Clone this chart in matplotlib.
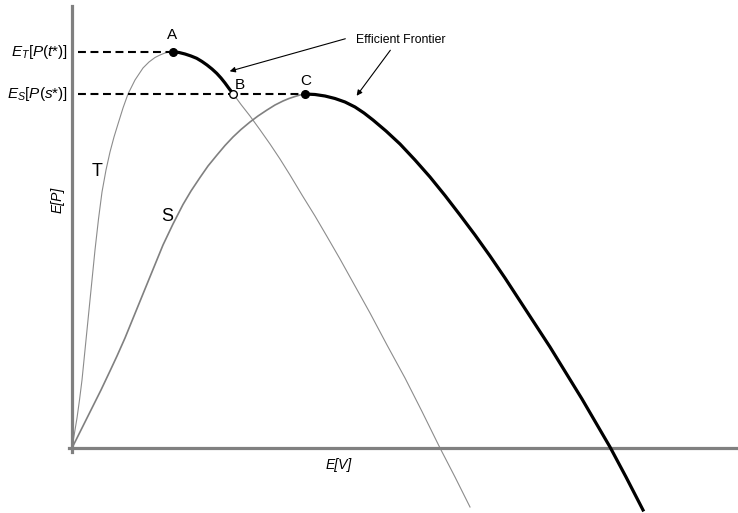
import matplotlib
matplotlib.use("Agg")
import matplotlib.pyplot as plt

plt.rcParams['font.family'] = ['Liberation Sans', 'DejaVu Sans']
plt.rcParams['mathtext.fontset'] = 'custom'
plt.rcParams['mathtext.rm'] = 'Liberation Sans'
plt.rcParams['mathtext.it'] = 'Liberation Sans:italic'

# curve T: expected value E[V] vs expected payoff E[P]
t_ev = [0, 0.025, 0.05, 0.075, 0.10, 0.13, 0.16, 0.195, 0.23, 0.265, 0.30, 0.34,
        0.38, 0.42, 0.46, 0.51, 0.56, 0.63, 0.71, 0.77, 0.83, 0.88, 0.93, 0.97,
        1.005, 1.07, 1.13, 1.19, 1.247, 1.30, 1.35, 1.40, 1.447, 1.49, 1.53, 1.57,
        1.613, 1.69, 1.78, 1.88, 1.98, 2.08, 2.18, 2.30, 2.43, 2.55, 2.68, 2.83,
        2.98, 3.15, 3.33, 3.50, 3.68, 3.83, 3.98]
t_ep = [0, 0.15, 0.30, 0.48, 0.68, 0.98, 1.28, 1.63, 1.98, 2.29, 2.56, 2.78,
        2.96, 3.11, 3.24, 3.40, 3.54, 3.68, 3.80, 3.86, 3.905, 3.93, 3.95, 3.96,
        3.963, 3.955, 3.94, 3.92, 3.897, 3.865, 3.83, 3.79, 3.747, 3.70, 3.65, 3.595,
        3.54, 3.435, 3.32, 3.182, 3.04, 2.89, 2.73, 2.53, 2.32, 2.115, 1.89, 1.62,
        1.35, 1.03, 0.70, 0.365, 0.0, -0.29, -0.59]

# curve S
s_ev = [0, 0.10, 0.21, 0.29, 0.38, 0.45, 0.53, 0.63, 0.73, 0.82, 0.91, 1.01,
        1.11, 1.19, 1.28, 1.36, 1.45, 1.53, 1.61, 1.69, 1.78, 1.86, 1.95, 2.03,
        2.11, 2.17, 2.23, 2.28, 2.33, 2.43, 2.53, 2.63, 2.73, 2.83, 2.92, 3.01,
        3.14, 3.28, 3.43, 3.58, 3.73, 3.88, 4.03, 4.18, 4.33, 4.48, 4.63, 4.78,
        4.94, 5.10, 5.24, 5.38, 5.54, 5.71]
s_ep = [0, 0.20, 0.42, 0.58, 0.77, 0.92, 1.10, 1.345, 1.59, 1.81, 2.03, 2.24,
        2.435, 2.57, 2.705, 2.82, 2.93, 3.025, 3.11, 3.185, 3.26, 3.32, 3.38, 3.43,
        3.47, 3.495, 3.515, 3.53, 3.54, 3.535, 3.52, 3.495, 3.46, 3.41, 3.35, 3.28,
        3.17, 3.04, 2.88, 2.71, 2.525, 2.33, 2.13, 1.92, 1.70, 1.47, 1.24, 1.01,
        0.75, 0.49, 0.25, 0.01, -0.29, -0.62]

# indices of the named points on each curve
A_IDX = 24   # peak of T
B_IDX = 36   # where T drops to the level of C
C_IDX = 28   # peak of S

fig = plt.figure(figsize=(7.38, 5.13), dpi=100)
ax = fig.add_axes([0, 0, 1, 1])
ax.set_xlim(-0.72, 6.66)
ax.set_ylim(-0.65, 4.48)

# axes drawn as thick grey lines through the origin
for side in ['top', 'right']:
    ax.spines[side].set_visible(False)
ax.spines['left'].set_position(('data', 0))
ax.spines['bottom'].set_position(('data', 0))
ax.spines['left'].set_bounds(-0.035, 4.42)
ax.spines['bottom'].set_bounds(-0.03, 6.66)
for side in ['left', 'bottom']:
    ax.spines[side].set_color('#808080')
    ax.spines[side].set_linewidth(2.3)
ax.set_xticks([])
ax.set_yticks([])
ax.patch.set_visible(False)

line_kw = dict(solid_joinstyle='round', clip_on=False)
ax.plot(t_ev, t_ep, color='#8c8c8c', lw=0.8, **line_kw)
ax.plot(s_ev, s_ep, color='#808080', lw=1.2, **line_kw)

# efficient frontier: A->B along T, then from C onwards along S
ax.plot(t_ev[A_IDX:B_IDX + 1], t_ep[A_IDX:B_IDX + 1], color='black', lw=2.3,
        solid_capstyle='butt', zorder=4, **line_kw)
ax.plot(s_ev[C_IDX:], s_ep[C_IDX:], color='black', lw=2.3, zorder=4, **line_kw)

# dashed reference levels
ax.plot([0.06, t_ev[A_IDX]], [t_ep[A_IDX]] * 2, color='black', lw=1.5,
        dashes=(3.8, 2.2), zorder=3)
ax.plot([0.06, s_ev[C_IDX]], [s_ep[C_IDX]] * 2, color='black', lw=1.5,
        dashes=(3.8, 2.2), zorder=3)

ax.plot(t_ev[A_IDX], t_ep[A_IDX], 'o', color='black', ms=5.5, zorder=5)
ax.plot(t_ev[B_IDX], t_ep[B_IDX], 'o', mfc='white', mec='black', mew=1.0, ms=5.5, zorder=5)
ax.plot(s_ev[C_IDX], s_ep[C_IDX], 'o', color='black', ms=5.5, zorder=5)

ax.text(t_ev[A_IDX], t_ep[A_IDX] + 0.1, 'A', ha='center', va='bottom', fontsize=11)
ax.text(t_ev[B_IDX] + 0.07, t_ep[B_IDX] + 0.02, 'B', ha='center', va='bottom', fontsize=11)
ax.text(s_ev[C_IDX] + 0.01, s_ep[C_IDX] + 0.06, 'C', ha='center', va='bottom', fontsize=11)
ax.text(0.25, 2.77, 'T', ha='center', va='center', fontsize=13)
ax.text(0.95, 2.32, 'S', ha='center', va='center', fontsize=13)

ax.text(-0.04, t_ep[A_IDX], r'$E_T$[$P$($t$*)]', ha='right', va='center', fontsize=11)
ax.text(-0.04, s_ep[C_IDX], r'$E_S$[$P$($s$*)]', ha='right', va='center', fontsize=11)
ax.text(-0.14, 2.48, 'E[P]', rotation=90, ha='center', va='center', fontsize=10,
        style='italic')
ax.text(2.67, -0.17, 'E[V]', ha='center', va='center', fontsize=10, style='italic')

ax.text(3.29, 4.08, 'Efficient Frontier', ha='center', va='center', fontsize=8.8)
arrow = dict(arrowstyle='-|>', color='black', lw=0.8, mutation_scale=8)
ax.annotate('', xy=(1.55, 3.76), xytext=(2.76, 4.10), arrowprops=arrow)
ax.annotate('', xy=(2.83, 3.50), xytext=(3.20, 4.00), arrowprops=arrow)

fig.savefig('out.png', dpi=100)
